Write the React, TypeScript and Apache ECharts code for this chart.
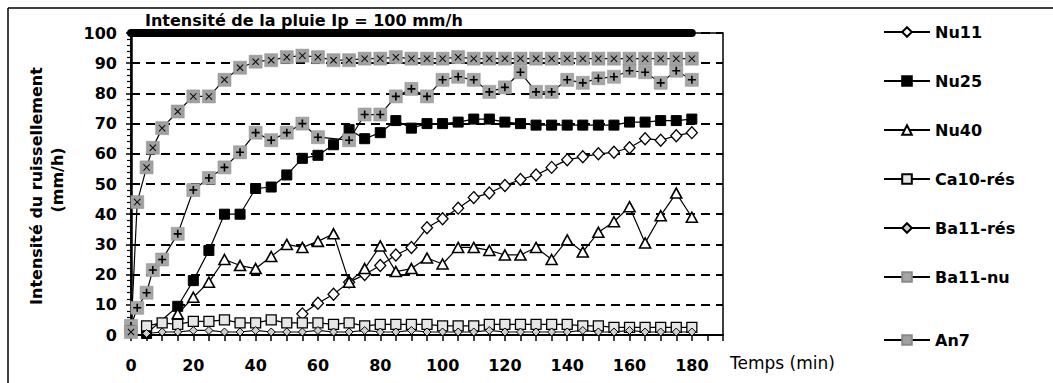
import React, { useEffect, useRef } from "react";
import * as echarts from "echarts";

const FONT = "'DejaVu Sans', Verdana, sans-serif";

const titleText = "Intensité de la pluie Ip = 100 mm/h";
const xAxisName = "Temps (min)";
const yAxisNameLine1 = "Intensité du ruissellement";
const yAxisNameLine2 = "(mm/h)";

const xTickLabels = [0, 20, 40, 60, 80, 100, 120, 140, 160, 180];

const rainTimes = [0, 180];
const rainValues = [100, 100];

const nu11Times = [55, 60, 65, 70, 75, 80, 85, 90, 95, 100, 105, 110, 115, 120, 125, 130, 135, 140, 145, 150, 155, 160, 165, 170, 175, 180];
const nu11Values = [7, 10.5, 13.5, 17.5, 20, 23, 26.5, 29, 35.5, 38.5, 42, 45.5, 47, 49.5, 51.5, 53, 55.5, 58, 59, 60, 60.5, 62, 65, 64.5, 66, 67];

const nu25Times = [5, 15, 20, 25, 30, 35, 40, 45, 50, 55, 60, 65, 70, 75, 80, 85, 90, 95, 100, 105, 110, 115, 120, 125, 130, 135, 140, 145, 150, 155, 160, 165, 170, 175, 180];
const nu25Values = [0.5, 9.5, 18, 28, 40, 40, 48.5, 49, 53, 58.5, 59.5, 63, 68, 65, 67, 71, 68.5, 70, 70, 70.5, 71.5, 71.5, 70.5, 70, 69.5, 69.5, 69.5, 69.5, 69.5, 69.5, 70.5, 70.5, 71, 71, 71.5];

const nu40Times = [15, 20, 25, 30, 35, 40, 45, 50, 55, 60, 65, 70, 75, 80, 85, 90, 95, 100, 105, 110, 115, 120, 125, 130, 135, 140, 145, 150, 155, 160, 165, 170, 175, 180];
const nu40Values = [7, 12.5, 17.5, 25, 23, 22, 26, 30, 29, 31, 33.5, 17.5, 22, 29.5, 21, 22, 25.5, 23.5, 29, 29, 28, 26.5, 26.5, 29, 25, 31.5, 27.5, 34, 37.5, 42.5, 30.5, 39.5, 47, 39];

const resTimes = [5, 10, 15, 20, 25, 30, 35, 40, 45, 50, 55, 60, 65, 70, 75, 80, 85, 90, 95, 100, 105, 110, 115, 120, 125, 130, 135, 140, 145, 150, 155, 160, 165, 170, 175, 180];
const ca10ResValues = [3, 4, 3.5, 4.5, 4.5, 5, 4, 4, 5, 4, 4, 4, 3.5, 4, 3, 3.5, 3.5, 3.5, 3.5, 3, 3, 3, 3.5, 3.5, 3.5, 3.5, 3.5, 3.5, 3, 3, 2.5, 2.5, 2.5, 2.5, 2.5, 2.5];
const ba11ResValues = [0.5, 1, 1, 1.5, 1.5, 1, 1, 1.5, 1, 1, 1, 1.5, 1, 1, 1.5, 1, 1, 1.5, 1, 1, 1, 1, 1.5, 1, 1, 1, 1, 1, 1.5, 1, 1, 1.5, 1, 1, 1, 1];

const ba11NuTimes = [0, 2, 5, 7, 10, 15, 20, 25, 30, 35, 40, 45, 50, 55, 60, 70, 75, 80, 85, 90, 95, 100, 105, 110, 115, 120, 125, 130, 135, 140, 145, 150, 155, 160, 165, 170, 175, 180];
const ba11NuValues = [3, 9, 14, 21.5, 25, 33.5, 48, 52, 55.5, 60.5, 67, 64.5, 67, 70, 65.5, 64.5, 73, 73, 79, 81.5, 79, 84.5, 85.5, 84.5, 80.5, 82, 87, 80.5, 80.5, 84.5, 83.5, 85, 85.5, 87.5, 87, 83.5, 87.5, 84.5];

const an7Times = [0, 2, 5, 7, 10, 15, 20, 25, 30, 35, 40, 45, 50, 55, 60, 65, 70, 75, 80, 85, 90, 95, 100, 105, 110, 115, 120, 125, 130, 135, 140, 145, 150, 155, 160, 165, 170, 175, 180];
const an7Values = [1, 44, 55.5, 62, 68.5, 74, 79, 79, 84.5, 88.5, 90.5, 91, 92, 92.5, 92, 91, 91, 91.5, 91.5, 92, 91.5, 91.5, 91.5, 92, 91.5, 91.5, 91.5, 91.5, 91.5, 91.5, 91.5, 91.5, 91.5, 91.5, 91.5, 91.5, 91.5, 91.5, 91.5];

const legendMain = ["Nu11", "Nu25", "Nu40", "Ca10-rés", "Ba11-rés", "Ba11-nu"];
const legendLast = ["An7"];

const pairs = (xs: number[], ys: number[]) => xs.map((x, i) => [x, ys[i]]);

const PLUS = "path://M4,0H6V4H10V6H6V10H4V6H0V4H4Z";
const CROSS = "path://M1,0L5,4L9,0L10,1L6,5L10,9L9,10L5,6L1,10L0,9L4,5L0,1Z";

const thinLine = { color: "#000", width: 1.2 };

export default function App() {
  const ref = useRef<HTMLDivElement>(null);

  useEffect(() => {
    document.body.style.margin = "0";
    if (!ref.current) return;
    const chart = echarts.init(ref.current, null, { renderer: "svg" });

    const labelStyle = { fontFamily: FONT, fontSize: 16, fontWeight: "bold" as const, color: "#000" };

    const option: any = {
      animation: false,
      backgroundColor: "#fff",
      title: {
        text: titleText,
        left: 145,
        top: 12,
        padding: 0,
        textStyle: { fontFamily: FONT, fontSize: 16, fontWeight: "bold", color: "#000" },
      },
      grid: {
        left: 131,
        right: 330,
        top: 33,
        bottom: 48,
        show: true,
        borderColor: "#000",
        borderWidth: 1.5,
        backgroundColor: "transparent",
      },
      legend: [
        {
          data: legendMain,
          orient: "vertical",
          left: 883,
          top: 24,
          itemWidth: 46,
          itemHeight: 12,
          itemGap: 33,
          padding: 0,
          selectedMode: false,
          textStyle: { ...labelStyle, lineHeight: 16 },
        },
        {
          data: legendLast,
          orient: "vertical",
          left: 883,
          top: 332,
          itemWidth: 46,
          itemHeight: 12,
          padding: 0,
          selectedMode: false,
          textStyle: { ...labelStyle, lineHeight: 16 },
        },
      ],
      xAxis: {
        type: "value",
        min: 0,
        max: 190,
        interval: 5,
        axisLine: { show: true, lineStyle: { color: "#000", width: 2 } },
        axisTick: { show: true, length: 6, lineStyle: { color: "#000", width: 1.5 } },
        splitLine: { show: false },
        axisLabel: {
          ...labelStyle,
          margin: 22,
          formatter: (v: number) => (xTickLabels.indexOf(v) >= 0 ? String(v) : ""),
        },
      },
      yAxis: {
        type: "value",
        min: 0,
        max: 100,
        interval: 10,
        axisLine: { show: true, lineStyle: { color: "#000", width: 2.5 } },
        axisTick: { show: true, length: 5, lineStyle: { color: "#000", width: 1.5 } },
        minorTick: { show: true, splitNumber: 5, length: 4, lineStyle: { color: "#000", width: 1.2 } },
        splitLine: { show: true, lineStyle: { color: "#000", width: 2, type: [9, 6] } },
        axisLabel: { ...labelStyle, margin: 14 },
      },
      graphic: [
        { type: "line", shape: { x1: 8, y1: 8, x2: 1053, y2: 8 }, style: { stroke: "#000", lineWidth: 1.5 } },
        { type: "line", shape: { x1: 8, y1: 8, x2: 8, y2: 383 }, style: { stroke: "#000", lineWidth: 1.5 } },
        {
          type: "text",
          x: 36,
          y: 186,
          rotation: Math.PI / 2,
          style: { text: yAxisNameLine1, fill: "#000", font: `bold 16px ${FONT}`, align: "center", verticalAlign: "middle" },
        },
        {
          type: "text",
          x: 57,
          y: 180,
          rotation: Math.PI / 2,
          style: { text: yAxisNameLine2, fill: "#000", font: `bold 16px ${FONT}`, align: "center", verticalAlign: "middle" },
        },
        {
          type: "text",
          x: 730,
          y: 363,
          style: { text: xAxisName, fill: "#000", font: `17px ${FONT}`, align: "left", verticalAlign: "middle" },
        },
      ],
      series: [
        {
          name: "Intensité de la pluie",
          type: "line",
          data: pairs(rainTimes, rainValues),
          symbol: "none",
          clip: false,
          lineStyle: { color: "#000", width: 8, cap: "round" },
        },
        {
          name: "Nu11",
          type: "line",
          data: pairs(nu11Times, nu11Values),
          symbol: "diamond",
          symbolSize: [11, 12],
          itemStyle: { color: "#fff", borderColor: "#000", borderWidth: 1.3 },
          lineStyle: thinLine,
        },
        {
          name: "Nu25",
          type: "line",
          data: pairs(nu25Times, nu25Values),
          symbol: "rect",
          symbolSize: 10,
          itemStyle: { color: "#000", borderColor: "#000", borderWidth: 1 },
          lineStyle: thinLine,
        },
        {
          name: "Nu40",
          type: "line",
          data: pairs(nu40Times, nu40Values),
          symbol: "triangle",
          symbolSize: [11, 10],
          itemStyle: { color: "#fff", borderColor: "#000", borderWidth: 1.6 },
          lineStyle: thinLine,
        },
        {
          name: "Ca10-rés",
          type: "line",
          data: pairs(resTimes, ca10ResValues),
          symbol: "rect",
          symbolSize: 10,
          itemStyle: { color: "#e6e6e6", borderColor: "#000", borderWidth: 1.3 },
          lineStyle: thinLine,
        },
        {
          name: "Ba11-rés",
          type: "line",
          data: pairs(resTimes, ba11ResValues),
          symbol: "diamond",
          symbolSize: [8, 8],
          itemStyle: { color: "#cfcfcf", borderColor: "#000", borderWidth: 1 },
          lineStyle: thinLine,
        },
        {
          name: "Ba11-nu",
          type: "line",
          data: pairs(ba11NuTimes, ba11NuValues),
          symbol: "rect",
          symbolSize: 13,
          itemStyle: { color: "#a6a6a6", borderColor: "#8a8a8a", borderWidth: 0.5 },
          lineStyle: thinLine,
        },
        {
          name: "Ba11-nu marks",
          type: "line",
          data: pairs(ba11NuTimes, ba11NuValues),
          symbol: PLUS,
          symbolSize: 8,
          silent: true,
          itemStyle: { color: "#000" },
          lineStyle: { opacity: 0, width: 0 },
        },
        {
          name: "An7",
          type: "line",
          data: pairs(an7Times, an7Values),
          symbol: "rect",
          symbolSize: 13,
          itemStyle: { color: "#a0a0a0", borderColor: "#8a8a8a", borderWidth: 0.5 },
          lineStyle: thinLine,
        },
        {
          name: "An7 marks",
          type: "line",
          data: pairs(an7Times, an7Values),
          symbol: CROSS,
          symbolSize: 7,
          silent: true,
          itemStyle: { color: "#000" },
          lineStyle: { opacity: 0, width: 0 },
        },
      ],
    };

    chart.setOption(option);
    return () => chart.dispose();
  }, []);

  return <div ref={ref} style={{ width: 1053, height: 383 }} />;
}
